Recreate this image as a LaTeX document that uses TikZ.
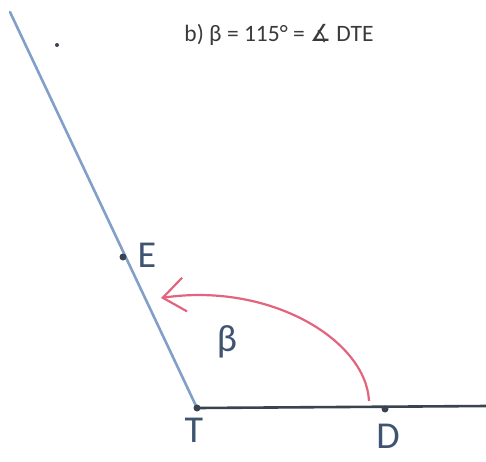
\documentclass[tikz,border=0pt]{standalone}
\usepackage{fontspec}
\setmainfont{Carlito}
\newfontfamily\symfont{DejaVu Sans}
\usetikzlibrary{arrows.meta}
\definecolor{penblue}{HTML}{819FC8}
\definecolor{inkgrey}{HTML}{3C4350}
\definecolor{inkblue}{HTML}{3E5470}
\definecolor{penred}{HTML}{E2647E}
\definecolor{titlegrey}{HTML}{3A3A3A}
\begin{document}
\begin{tikzpicture}[x=1pt,y=-1pt,
    ray/.style={line width=2.6pt,line cap=round},
    dot/.style={circle,fill=inkgrey,inner sep=0pt,minimum size=7pt},
    lbl/.style={text=inkblue,font=\fontsize{38}{38}\selectfont}]
    \useasboundingbox (0,0) rectangle (486,461);

    % points of the angle
    \coordinate (T) at (197,408);
    \coordinate (D) at (385,409);
    \coordinate (E) at (123,257);
    \coordinate (top) at (10,12);
    \coordinate (right) at (486,406);

    % rays
    \draw[ray, penblue] (T) -- (top);
    \draw[ray, inkgrey] (T) -- (right);

    % dots on top of the rays
    \node[dot] (Tdot) at (T) {};
    \node[dot] (Ddot) at (D) {};
    \node[dot] (Edot) at (E) {};
    \node[dot, minimum size=4pt] (speck) at (57,45) {};

    % angle arrow
    \coordinate (arcstart) at (369,401);
    \coordinate (arcend) at (161,298);
    \draw[line width=2.2pt, penred, -{Straight Barb[length=22pt,width=34pt]}]
        (arcstart) .. controls (366,340) and (270,282) .. (arcend);

    % labels
    \node[lbl] (Elbl) at (147,255) {E};
    \node[lbl] (Tlbl) at (194,430) {T};
    \node[lbl] (Dlbl) at (388,436) {D};
    \node[lbl] (beta) at (227,342) {β};
    \node[text=titlegrey, font=\fontsize{23.5}{28}\selectfont] (title) at (279,35)
        {b) β = 115° = {\symfont ∡} DTE};
\end{tikzpicture}
\end{document}
